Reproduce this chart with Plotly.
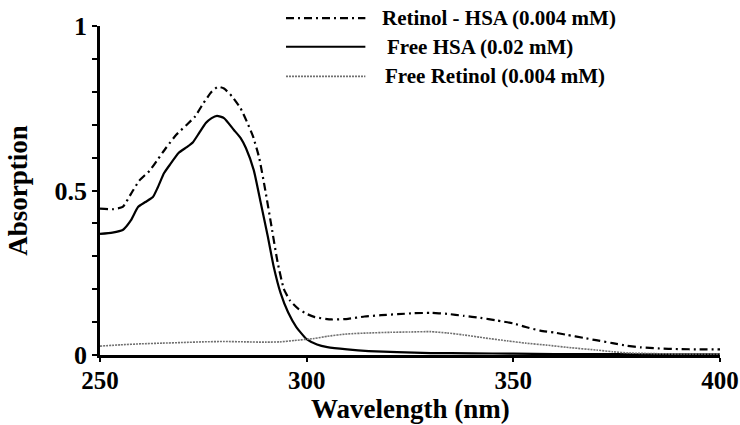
import plotly.graph_objects as go

# ---- data ----
wl_complex = [250, 253, 255.5, 257.5, 259.5, 262, 264, 266, 268.5, 271, 273, 275, 277, 278.5, 280,
              282, 284, 285.5, 287, 288.5, 290, 291.5, 293, 294.5, 296, 298, 300, 302, 306, 310,
              314, 318, 322, 326, 330, 334, 338, 342, 346, 350, 353, 356.5, 360, 363, 367, 370,
              374, 377.5, 381, 385, 390, 395, 400]
abs_complex = [0.445, 0.443, 0.45, 0.49, 0.53, 0.56, 0.595, 0.63, 0.67, 0.70, 0.725, 0.765, 0.80, 0.815, 0.81,
               0.785, 0.75, 0.71, 0.665, 0.60, 0.50, 0.39, 0.28, 0.20, 0.165, 0.14, 0.125, 0.115, 0.108, 0.11,
               0.117, 0.121, 0.124, 0.127, 0.128, 0.125, 0.119, 0.113, 0.105, 0.096, 0.085, 0.074, 0.068, 0.061, 0.052, 0.045,
               0.036, 0.028, 0.023, 0.020, 0.018, 0.017, 0.017]

wl_hsa = [250, 253, 255.5, 257.5, 259.2, 261, 262.8, 264, 265.5, 267, 269, 271, 272.5, 274, 275.6,
          277, 278.3, 280, 282.4, 284, 285.3, 287.2, 288.9, 290.6, 292, 293.7, 295.5, 297.5, 300, 302.5,
          305, 309.8, 315, 321.9, 330, 340, 350, 360, 370, 380, 390, 400]
abs_hsa = [0.368, 0.372, 0.38, 0.41, 0.45, 0.465, 0.48, 0.51, 0.553, 0.58, 0.614, 0.632, 0.647, 0.675, 0.705,
           0.72, 0.727, 0.72, 0.684, 0.66, 0.629, 0.562, 0.462, 0.36, 0.27, 0.188, 0.13, 0.085, 0.048, 0.032,
           0.024, 0.017, 0.012, 0.009, 0.006, 0.005, 0.004, 0.003, 0.003, 0.002, 0.002, 0.002]

wl_ret = [250, 255, 260, 265, 270, 275, 280, 285, 290, 293.7, 297, 301.8, 305, 309.8, 315, 320.3, 325,
          330, 334, 338, 343, 348.5, 353, 358.1, 364, 370.2, 374, 378, 385, 392, 400]
abs_ret = [0.027, 0.031, 0.034, 0.036, 0.038, 0.04, 0.041, 0.04, 0.039, 0.04, 0.044, 0.05, 0.057, 0.064, 0.067, 0.069, 0.07,
           0.071, 0.067, 0.061, 0.052, 0.043, 0.036, 0.03, 0.022, 0.015, 0.01, 0.006, 0.004, 0.003, 0.003]

series_names = ["Retinol - HSA (0.004 mM)", "Free HSA (0.02 mM)", "Free Retinol (0.004 mM)"]
x_ticks = [250, 300, 350, 400]
y_ticks = [0, 0.5, 1]
y_ticklabels = ["0", "0.5", "1"]
x_title = "Wavelength (nm)"
y_title = "Absorption"

FONT = "Liberation Serif"

styles = [
    dict(color="black", width=2.2, dash="8px,4px,2px,4px"),
    dict(color="black", width=2.2, dash="solid"),
    dict(color="#707070", width=1.6, dash="2px,1px"),
]

fig = go.Figure()
for name, xs, ys, st in zip(series_names, [wl_complex, wl_hsa, wl_ret],
                            [abs_complex, abs_hsa, abs_ret], styles):
    fig.add_trace(go.Scatter(x=xs, y=ys, mode="lines", name=name,
                             line=dict(shape="spline", smoothing=0.5, **st),
                             showlegend=False))

# ---- custom legend (long sample lines like the reference) ----
leg_rows_y = [1.024, 0.937, 0.847]
leg_text_x = [0.452, 0.460, 0.456]
for name, st, yy, tx in zip(series_names, styles, leg_rows_y, leg_text_x):
    fig.add_shape(type="line", xref="paper", yref="paper",
                  x0=0.30, x1=0.428, y0=yy, y1=yy, line=st)
    fig.add_annotation(xref="paper", yref="paper", x=tx, y=yy, text=name,
                       showarrow=False, xanchor="left", yanchor="middle",
                       font=dict(family=FONT, size=21, color="black", weight="bold"))

# x-axis title placed as an annotation so it stays inside the page
fig.add_annotation(xref="paper", yref="paper", x=0.5, y=-0.163, text=x_title,
                   showarrow=False, xanchor="center", yanchor="middle",
                   font=dict(family=FONT, size=27, color="black", weight="bold"))

fig.update_layout(
    width=740, height=425, autosize=False,
    margin=dict(l=100, r=20, t=26, b=70),
    paper_bgcolor="white", plot_bgcolor="white",
    font=dict(family=FONT, color="black"),
)
fig.update_xaxes(
    range=[250, 400], tickvals=x_ticks, ticktext=[str(v) for v in x_ticks],
    automargin=False,
    showgrid=False, zeroline=False, showline=True, linecolor="black", linewidth=2.5,
    ticks="outside", ticklen=4, tickwidth=1.5, tickcolor="black", ticklabelstandoff=-3,
    tickfont=dict(family=FONT, size=25, color="black", weight="bold"),
)
fig.update_yaxes(
    range=[0, 1], tickvals=y_ticks, ticktext=y_ticklabels,
    automargin=False,
    showgrid=False, zeroline=False, showline=True, linecolor="black", linewidth=2.5,
    ticks="outside", ticklen=5, tickwidth=1.5, tickcolor="black",
    minor=dict(dtick=0.1, tick0=0, ticks="outside", ticklen=5, tickwidth=1.5, tickcolor="black", showgrid=False),
    tickfont=dict(family=FONT, size=26, color="black", weight="bold"),
    title=dict(text=y_title, standoff=20,
               font=dict(family=FONT, size=27, color="black", weight="bold")),
)

fig.write_html("out.html", config={"displayModeBar": False, "responsive": False},
               post_script="document.body.style.margin='0';document.body.style.overflow='hidden';")
